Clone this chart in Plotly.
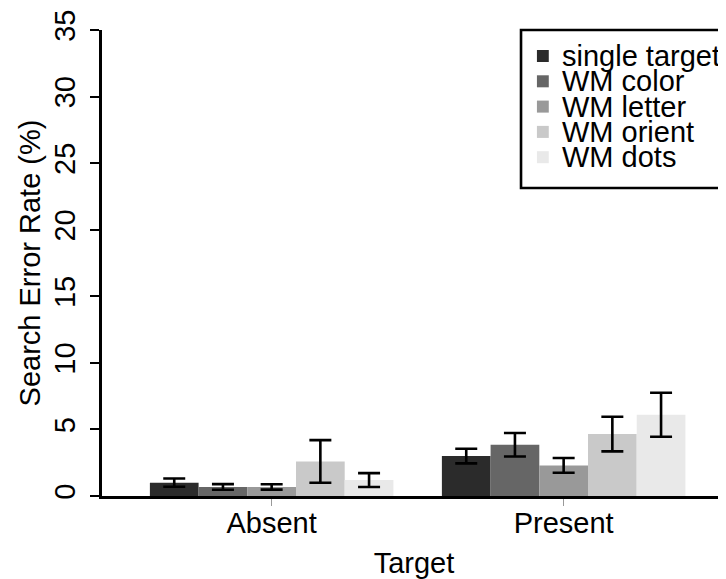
import plotly.graph_objects as go

targets = ["Absent", "Present"]
conditions = ["single target", "WM color", "WM letter", "WM orient", "WM dots"]
colors = ["#2b2b2b", "#666666", "#999999", "#c9c9c9", "#e9e9e9"]

# error rate (%) per condition, [Absent, Present]
err_rate = {
    "single target": [1.0, 3.0],
    "WM color": [0.68, 3.85],
    "WM letter": [0.68, 2.3],
    "WM orient": [2.6, 4.65],
    "WM dots": [1.2, 6.1],
}
# standard error bars
err_se = {
    "single target": [0.31, 0.55],
    "WM color": [0.21, 0.88],
    "WM letter": [0.2, 0.55],
    "WM orient": [1.6, 1.3],
    "WM dots": [0.52, 1.65],
}

FONT = "Liberation Sans, Arial, sans-serif"
FS = 29

fig = go.Figure()
for cond, col in zip(conditions, colors):
    fig.add_trace(go.Bar(
        x=targets, y=err_rate[cond], name=cond, showlegend=False,
        marker=dict(color=col, line=dict(width=0)),
        error_y=dict(type="data", array=err_se[cond], visible=True,
                     color="black", thickness=2.6, width=11),
    ))

# R-style legend: tight rows, box running off the right edge
plot_h = 466
row0, row_gap = 26, 25.3        # px from top of plot area
fig.add_shape(type="rect", xref="paper", yref="paper",
              x0=0.6715, x1=1.06, y0=1 - 158 / plot_h, y1=1.0,
              line=dict(color="black", width=2.6), fillcolor="white")
for i, (cond, col) in enumerate(zip(conditions, colors)):
    yc = 1 - (row0 + i * row_gap) / plot_h
    fig.add_shape(type="rect", xref="paper", yref="paper",
                  x0=0.697, x1=0.716, y0=yc - 0.0129, y1=yc + 0.0129,
                  line=dict(width=0), fillcolor=col)
    fig.add_annotation(text=cond, xref="paper", yref="paper",
                       x=0.735, y=yc, xanchor="left", yanchor="middle",
                       showarrow=False, font=dict(size=FS), borderpad=0)

fig.update_layout(
    width=718, height=571,
    barmode="group", bargap=0.166, bargroupgap=0,
    paper_bgcolor="white", plot_bgcolor="white",
    margin=dict(l=94, r=0, t=22, b=83, autoexpand=False),
    font=dict(family=FONT, size=FS, color="black"),
)
fig.update_xaxes(
    range=[-0.581, 1.556], showline=True, linecolor="black", linewidth=2.6,
    ticks="outside", ticklen=7, tickcolor="#999999", tickwidth=1,
    ticklabelstandoff=-8,
    tickfont=dict(size=FS), showgrid=False, zeroline=False, automargin=False,
    title=dict(text="Target", font=dict(size=FS), standoff=16),
)
fig.update_yaxes(
    range=[0, 35], tickvals=[0, 5, 10, 15, 20, 25, 30, 35], tickangle=-90,
    showline=True, linecolor="black", linewidth=2.6,
    ticks="outside", ticklen=9, tickcolor="black", tickwidth=1.5,
    ticklabelstandoff=4,
    tickfont=dict(size=FS), showgrid=False, zeroline=False, automargin=False,
    title=dict(text="Search Error Rate (%)", font=dict(size=FS), standoff=0),
)

fig.write_html("out.html")
